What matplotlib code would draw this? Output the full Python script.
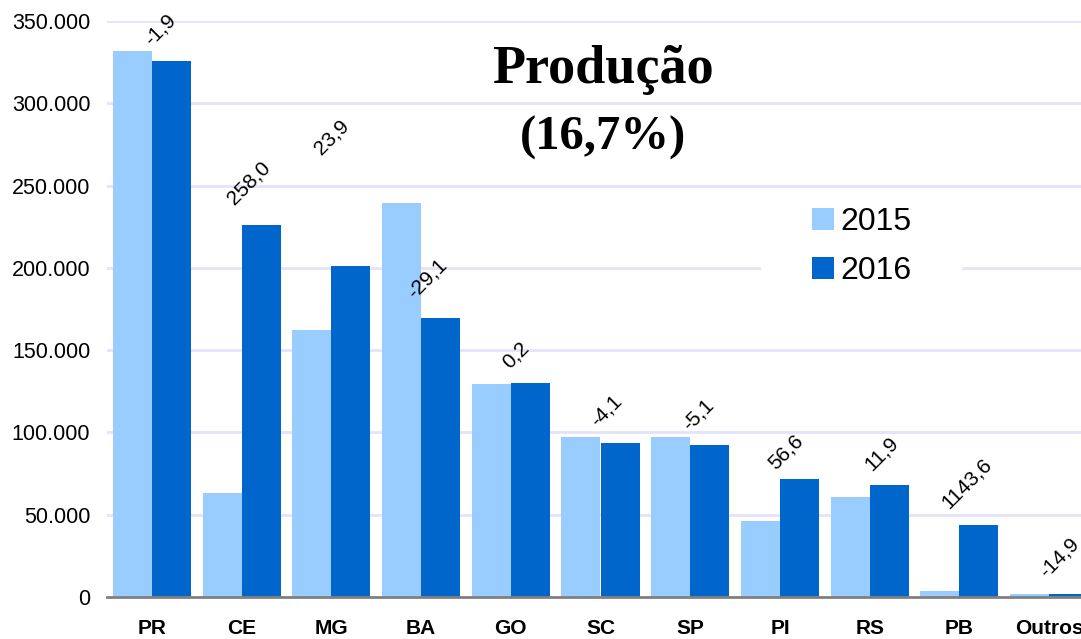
import matplotlib
matplotlib.use("Agg")
import matplotlib.pyplot as plt
from matplotlib.ticker import FuncFormatter
from matplotlib.patches import Rectangle
import numpy as np

# ---- data ----
categories = ["PR", "CE", "MG", "BA", "GO", "SC", "SP", "PI", "RS", "PB", "Outros"]
prod_2015 = [332000, 63200, 162200, 239200, 129500, 97400, 97400, 45900, 60800, 3520, 1900]
prod_2016 = [325700, 226300, 200900, 169600, 129800, 93400, 92400, 71900, 68000, 43800, 1620]
change_labels = ["-1,9", "258,0", "23,9", "-29,1", "0,2", "-4,1", "-5,1", "56,6", "11,9", "1143,6", "-14,9"]
series_names = ["2015", "2016"]
title_main = "Produção"
title_sub = "(16,7%)"

# label placement (layout, data units)
label_y = [345000, 251500, 279500, 193200, 147000, 113000, 110600, 88100, 86900, 69300, 23700]
label_dx = [0.09, 0.08, 0.0, 0.07, 0.05, 0.06, 0.09, 0.06, 0.13, 0.08, 0.11]

c2015 = "#99CCFF"
c2016 = "#0066CC"
grid_c = "#E3E3FA"

W, H = 1081, 639
fig = plt.figure(figsize=(W / 100, H / 100), dpi=100)
ax = fig.add_axes([107 / W, (H - 597) / H, 987 / W, 576 / H])

x = np.arange(len(categories))
bw = 0.435
ax.bar(x - bw / 2, prod_2015, width=bw, color=c2015, label=series_names[0], zorder=3)
ax.bar(x + bw / 2, prod_2016, width=bw, color=c2016, label=series_names[1], zorder=3)

ax.set_xlim(-0.5, len(categories) - 0.5)
ax.set_ylim(0, 350000)
ax.set_yticks(np.arange(0, 350001, 50000))
ax.yaxis.set_major_formatter(FuncFormatter(lambda v, p: f"{int(v):,}".replace(",", ".")))
ax.grid(axis="y", color=grid_c, linewidth=2, zorder=0)
ax.set_axisbelow(True)

for s in ["left", "right", "top"]:
    ax.spines[s].set_visible(False)
ax.spines["bottom"].set_color("#808080")
ax.spines["bottom"].set_linewidth(2)
ax.spines["bottom"].set_zorder(4)

ax.set_xticks(x)
ax.set_xticklabels(categories, fontsize=15, fontweight="bold", family="Liberation Sans")
ax.tick_params(axis="x", length=0, pad=16)
ax.tick_params(axis="y", length=0, pad=12, labelsize=15.5)
for t in ax.get_yticklabels():
    t.set_family("Liberation Sans")

for i, lab in enumerate(change_labels):
    ax.text(x[i] + label_dx[i], label_y[i], lab, rotation=45, ha="center", va="center",
            fontsize=15, family="Liberation Sans", zorder=5)

fig.text(603 / W, 1 - 70 / H, title_main, ha="center", va="center", fontsize=39,
         fontweight="bold", family="Liberation Serif")
fig.text(603 / W, 1 - 138 / H, title_sub, ha="center", va="center", fontsize=35,
         fontweight="bold", family="Liberation Serif")

# white area behind the legend (breaks the gridline as in the reference)
ax.add_patch(Rectangle(((761 - 107) / 987, (597 - 292) / 576), 201 / 987, 100 / 576,
                       transform=ax.transAxes, facecolor="white", edgecolor="none", zorder=2))

leg = ax.legend(loc="upper left", bbox_to_anchor=((812 - 107) / 987, (597 - 207) / 576),
                prop={"family": "Liberation Sans", "size": 23}, frameon=False,
                handlelength=0.69, handleheight=0.69, handletextpad=0.2,
                labelspacing=0.6, borderpad=0, borderaxespad=0)
leg.set_zorder(6)

fig.savefig("out.png", dpi=100)
